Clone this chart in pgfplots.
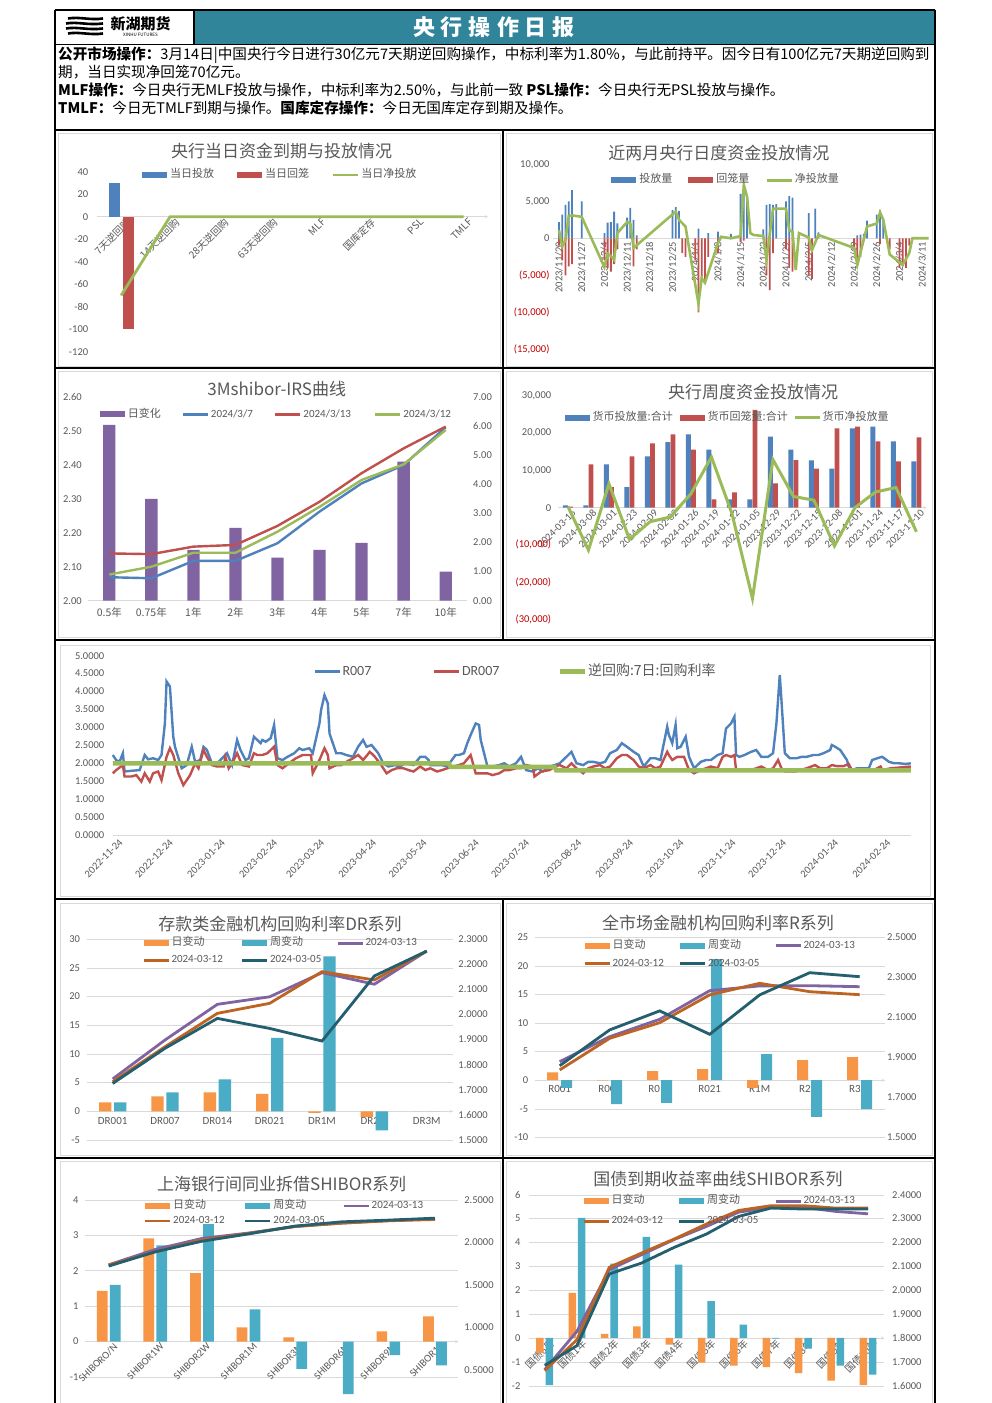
\documentclass[border=0pt]{standalone}
\usepackage{fontspec}
\usepackage{xcolor}
\usepackage{pgfplots}
\pgfplotsset{compat=1.18}
\setmainfont{Noto Sans CJK SC}
\newfontfamily\lat{Carlito}
\definecolor{xblue}{RGB}{79,129,189}
\definecolor{xred}{RGB}{192,80,77}
\definecolor{xgreen}{RGB}{155,187,89}
\definecolor{xpurple}{RGB}{128,100,162}
\definecolor{xorange}{RGB}{247,150,70}
\definecolor{xteal}{RGB}{75,172,198}
\definecolor{xbrown}{RGB}{190,100,35}
\definecolor{xdteal}{RGB}{35,95,110}
\definecolor{xgray}{RGB}{89,89,89}
\definecolor{xgrid}{RGB}{217,217,217}
\definecolor{head}{RGB}{49,133,155}
\definecolor{negred}{RGB}{192,0,0}
\pgfplotsset{
  xl/.style={scale only axis, enlargelimits=false, clip=false, scaled ticks=false,
    major tick length=0pt,
    tick label style={font=\lat\fontsize{10.5}{12}\selectfont, text=xgray},
    axis line style={draw=xgrid, -},
    every inner x axis line/.append style={-},
    every outer x axis line/.append style={-},
    every outer y axis line/.append style={-},
    legend style={draw=none, fill=none, inner sep=0pt, outer sep=0pt,
      /tikz/column sep=0pt,
      nodes={inner sep=0pt, text height=8pt, text depth=2.5pt, text=xgray},
      font=\fontsize{11}{12}\selectfont},
    legend cell align=left,
    /pgf/number format/assume math mode=true,
    hide obscured x ticks=false, hide obscured y ticks=false,
  },
}
\newcommand{\lbar}[1]{\addlegendimage{legend image code/.code={\path[fill=#1, draw=none] (0pt,-3pt) rectangle (25pt,3pt); \path[draw=none, fill=none] (0pt,0pt) -- (28pt,0pt);}}}
\newcommand{\lline}[2]{\addlegendimage{legend image code/.code={\path[draw=#1, line width=#2, fill=none] (0pt,0pt) -- (25pt,0pt); \path[draw=none, fill=none] (0pt,0pt) -- (28pt,0pt);}}}
\begin{document}
\begin{tikzpicture}[x=1pt,y=1pt]
\useasboundingbox (0,0) rectangle (992,1403);
\fill[white] (0,0) rectangle (992,1403);
\begin{scope}
\clip (0,0) rectangle (992,1403);
% light chart borders
\begin{scope}[shift={(0,1403)},yscale=-1]
\draw[xgrid, line width=0.8pt] (58,133) rectangle (500,366);
\draw[xgrid, line width=0.8pt] (506,133) rectangle (932,366);
\draw[xgrid, line width=0.8pt] (58,371) rectangle (500,637);
\draw[xgrid, line width=0.8pt] (506,371) rectangle (932,637);
\draw[xgrid, line width=0.8pt] (60,645) rectangle (930,896);
\draw[xgrid, line width=0.8pt] (60,903) rectangle (500,1155);
\draw[xgrid, line width=0.8pt] (506,903) rectangle (932,1155);
\draw[xgrid, line width=0.8pt] (60,1161) rectangle (500,1410);
\draw[xgrid, line width=0.8pt] (506,1161) rectangle (932,1410);
\end{scope}

%================ Chart 1
\begin{axis}[xl, at={(96.7pt,1051.3pt)}, anchor=south west, width=391.3pt, height=180pt,
  xmin=-0.5, xmax=7.5, ymin=-120, ymax=40,
  axis x line=middle, axis y line*=left, y axis line style={draw=none},
  ytick={-120,-100,-80,-60,-40,-20,0,20,40},
  yticklabels={-120,-100,-80,-60,-40,-20,0,20,40}, yticklabel style={xshift=-5pt},
  xtick={0,...,7},
  xticklabels={7天逆回购,14天逆回购,28天逆回购,63天逆回购,MLF,国库定存,PSL,TMLF},
  xticklabel style={font=\fontsize{10}{10}\selectfont, text=xgray, rotate=45, anchor=north east, xshift=6pt},
  legend columns=-1, legend style={at={(0.1158,0.9817)}, anchor=west},
]
\addplot[ybar, bar width=11pt, bar shift=-7pt, fill=xblue, draw=none, forget plot] coordinates {(0,30)};
\addplot[ybar, bar width=11pt, bar shift=7pt, fill=xred, draw=none, forget plot] coordinates {(0,-100)};
\addplot[xgreen, line width=2.8pt, forget plot] coordinates {(0,-70) (1,0) (2,0) (3,0) (4,0) (5,0) (6,0) (7,0)};
\lbar{xblue}\addlegendentry{\makebox[67pt][l]{当日投放}}
\lbar{xred}\addlegendentry{\makebox[67pt][l]{当日回笼}}
\lline{xgreen}{2.8pt}\addlegendentry{当日净投放}
\end{axis}

%================ Chart 2
\begin{axis}[xl, at={(553pt,1053.7pt)}, anchor=south west, width=376pt, height=185pt,
  xmin=-1.85, xmax=114.1, ymin=-15000, ymax=10000,
  axis x line=middle, axis y line*=left, y axis line style={draw=none},
  ytick={-15000,-10000,-5000,0,5000,10000},
  yticklabels={{\color{negred}(15,000)},{\color{negred}(10,000)},{\color{negred}(5,000)},0,{5,000},{10,000}},
  xtick={0,7,...,112},
  xticklabels={2023/11/20,2023/11/27,2023/12/4,2023/12/11,2023/12/18,2023/12/25,2024/1/1,2024/1/8,2024/1/15,2024/1/22,2024/1/29,2024/2/5,2024/2/12,2024/2/19,2024/2/26,2024/3/4,2024/3/11},
  xticklabel style={rotate=90, anchor=east},
  legend columns=-1, legend style={at={(0.155,0.915)}, anchor=west},
]
\addplot[ybar, bar width=1.8pt, bar shift=0pt, fill=xblue, draw=none, forget plot] coordinates {
(0,2200) (1,3200) (2,4500) (3,5000) (4,6500) (7,5000) (14,700) (15,2100) (16,2200) (17,3600) (18,2000)
(21,2800) (22,4100) (23,2500) (24,400) (35,3800) (36,4200) (37,3700) (43,1300) (46,700) (49,900) (53,600)
(56,6000) (57,7200) (58,5000) (63,1200) (64,4500) (65,4600) (66,4500) (67,4600) (70,5000) (71,5700) (72,5500)
(77,3400) (79,4000) (80,800) (92,400) (93,500) (94,600) (95,2400) (98,3200) (99,3800) (100,2600)};
\addplot[ybar, bar width=1.8pt, bar shift=0pt, fill=xred, draw=none, forget plot] coordinates {
(0,-1000) (1,-3000) (2,-5000) (3,-3800) (4,-3500) (14,-3000) (15,-4000) (16,-4500) (17,-3500) (18,-1500)
(23,-3800) (24,-1500) (38,-2000) (39,-2500) (42,-3000) (43,-10000) (44,-5500) (45,-6000) (46,-2500) (49,-2000)
(56,-500) (57,-300) (64,-5000) (65,-7000) (66,-2000) (70,-1500) (71,-4000) (72,-4500) (77,-5000) (78,-5500)
(91,-1500) (92,-3000) (93,-2500) (99,-800) (102,-1500) (105,-4000) (106,-3500) (107,-4000) (108,-1000)};
\addplot[xgreen, line width=2.6pt, forget plot] coordinates {
(0,1100) (1,-1100) (2,-200) (3,3000) (4,3100) (7,2900) (14,-3900) (15,-2100) (16,-2400) (17,-2900) (18,700)
(21,2200) (22,2000) (23,-1300) (36,3600) (37,2500) (39,1600) (43,-8800) (44,-5400) (45,-6000) (49,-700)
(50,200) (53,0) (56,300) (57,7200) (58,5600) (59,700) (60,450) (63,300) (64,-2900) (66,4000) (70,4000)
(71,1100) (72,900) (73,-4300) (74,700) (77,100) (78,-1600) (80,450) (91,-1300) (92,-3600) (95,1600)
(98,2000) (99,3500) (100,2500) (102,-2200) (106,-3600) (108,-2000) (109,0) (112,0) (113,0) (114,0)};
\lbar{xblue}\addlegendentry{\makebox[49pt][l]{投放量}}
\lbar{xred}\addlegendentry{\makebox[49pt][l]{回笼量}}
\lline{xgreen}{3pt}\addlegendentry{净投放量}
\end{axis}

%================ Chart 3 (bars, right axis)
\begin{axis}[xl, at={(88.3pt,802.3pt)}, anchor=south west, width=378.4pt, height=204pt,
  xmin=-0.5, xmax=8.5, ymin=0, ymax=7,
  axis x line*=bottom, axis y line*=right, y axis line style={draw=none},
  ytick={0,1,2,3,4,5,6,7}, yticklabels={0.00,1.00,2.00,3.00,4.00,5.00,6.00,7.00},
  yticklabel style={xshift=3pt},
  xtick={0,...,8}, xticklabels={0.5年,0.75年,1年,2年,3年,4年,5年,7年,10年},
  xticklabel style={font=\fontsize{10.5}{11}\selectfont, text=xgray, yshift=-3pt},
]
\addplot[ybar, bar width=12.3pt, bar shift=0pt, fill=xpurple, draw=none] coordinates {(0,6.03) (1,3.49) (2,1.74) (3,2.50) (4,1.48) (5,1.74) (6,1.98) (7,4.77) (8,1.00)};
\end{axis}
\begin{axis}[xl, at={(88.3pt,802.3pt)}, anchor=south west, width=378.4pt, height=204pt,
  xmin=-0.5, xmax=8.5, ymin=2.0, ymax=2.6,
  axis x line=none, axis y line*=left, y axis line style={draw=none},
  ytick={2.0,2.1,2.2,2.3,2.4,2.5,2.6}, yticklabels={2.00,2.10,2.20,2.30,2.40,2.50,2.60},
  yticklabel style={xshift=-3pt},
  legend columns=-1, legend style={at={(0.0309,0.9137)}, anchor=west},
]
\addplot[xblue, line width=2.4pt, forget plot] coordinates {(0,2.069) (1,2.066) (2,2.117) (3,2.117) (4,2.169) (5,2.262) (6,2.345) (7,2.399) (8,2.510)};
\addplot[xred, line width=2.4pt, forget plot] coordinates {(0,2.139) (1,2.137) (2,2.159) (3,2.164) (4,2.220) (5,2.291) (6,2.375) (7,2.448) (8,2.512)};
\addplot[xgreen, line width=2.4pt, forget plot] coordinates {(0,2.077) (1,2.100) (2,2.141) (3,2.141) (4,2.203) (5,2.276) (6,2.355) (7,2.401) (8,2.502)};
\lbar{xpurple}\addlegendentry{\makebox[53.7pt][l]{日变化}}
\lline{xblue}{2.5pt}\addlegendentry{\makebox[63.3pt][l]{\lat 2024/3/7}}
\lline{xred}{2.5pt}\addlegendentry{\makebox[70.7pt][l]{\lat 2024/3/13}}
\lline{xgreen}{2.5pt}\addlegendentry{\lat 2024/3/12}
\end{axis}

%================ Chart 4
\begin{axis}[xl, at={(557.7pt,783.7pt)}, anchor=south west, width=369pt, height=223.3pt,
  xmin=-0.5, xmax=17.5, ymin=-30000, ymax=30000,
  axis x line=middle, axis y line*=left, y axis line style={draw=none},
  ytick={-30000,-20000,-10000,0,10000,20000,30000},
  yticklabels={{\color{negred}(30,000)},{\color{negred}(20,000)},{\color{negred}(10,000)},0,{10,000},{20,000},{30,000}},
  yticklabel style={xshift=-3pt},
  xtick={0,...,17},
  xticklabels={2024-03-15,2024-03-08,2024-03-01,2024-02-23,2024-02-09,2024-02-02,2024-01-26,2024-01-19,2024-01-12,2024-01-05,2023-12-29,2023-12-22,2023-12-15,2023-12-08,2023-12-01,2023-11-24,2023-11-17,2023-11-10},
  xticklabel style={rotate=45, anchor=north east, xshift=5pt},
  legend columns=-1, legend style={at={(0.019,0.9028)}, anchor=west},
]
\addplot[ybar, bar width=4.8pt, bar shift=-2.6pt, fill=xblue, draw=none, forget plot] coordinates {
(0,600) (1,600) (2,11600) (3,5500) (4,13800) (5,17600) (6,19700) (7,15600) (8,2200) (9,2200) (10,19100) (11,15600) (12,12700) (13,10500) (14,21300) (15,21800) (16,17800) (17,12400)};
\addplot[ybar, bar width=4.8pt, bar shift=2.6pt, fill=xred, draw=none, forget plot] coordinates {
(0,300) (1,11600) (2,5500) (3,13800) (4,17300) (5,19700) (6,15600) (7,2200) (8,4100) (9,26300) (10,6500) (11,12800) (12,10500) (13,21300) (14,21800) (15,17800) (16,12400) (17,18900)};
\addplot[xgreen, line width=3pt, forget plot] coordinates {
(0,300) (1,-11400) (2,6400) (3,-8500) (4,-3800) (5,-2500) (6,3750) (7,13600) (8,-1600) (9,-24400) (10,12900) (11,3000) (12,2000) (13,-10300) (14,0) (15,4200) (16,5400) (17,-6500)};
\lbar{xblue}\addlegendentry{\makebox[87pt][l]{货币投放量:合计}}
\lbar{xred}\addlegendentry{\makebox[85.3pt][l]{货币回笼量:合计}}
\lline{xgreen}{3pt}\addlegendentry{货币净投放量}
\end{axis}

%================ Chart 5
\begin{axis}[xl, at={(112.8pt,568pt)}, anchor=south west, width=798pt, height=179.3pt,
  xmin=0, xmax=475, ymin=0, ymax=5,
  axis x line*=bottom, axis y line*=left, y axis line style={draw=none},
  ytick={0,0.5,1,1.5,2,2.5,3,3.5,4,4.5,5},
  yticklabels={0.0000,0.5000,1.0000,1.5000,2.0000,2.5000,3.0000,3.5000,4.0000,4.5000,5.0000},
  yticklabel style={xshift=-5pt},
  xtick={0,30,61,92,120,151,181,212,242,273,304,334,365,395,426,457},
  xticklabels={2022-11-24,2022-12-24,2023-01-24,2023-02-24,2023-03-24,2023-04-24,2023-05-24,2023-06-24,2023-07-24,2023-08-24,2023-09-24,2023-10-24,2023-11-24,2023-12-24,2024-01-24,2024-02-24},
  xticklabel style={rotate=45, anchor=north east, xshift=5pt, yshift=-3pt},
  legend columns=-1, legend style={at={(0.2509,0.9091)}, anchor=west, font=\fontsize{14}{15}\selectfont,
    nodes={text height=10pt, text depth=3pt}},
]
\addplot[xblue, line width=2.4pt, forget plot] coordinates {
(0,2.23) (2,2.09) (4,2.04) (6,2.28) (7,1.77) (11,1.79) (16,1.81) (19,2.23) (21,2.11) (24,2.14) (27,2.09) (29,2.23)
(31,3.11) (32,4.28) (34,4.14) (36,2.74) (37,2.46) (41,1.86) (44,1.95) (47,2.46) (49,2.04) (52,2.09) (54,2.46) (56,2.37)
(59,2.00) (63,2.04) (68,2.28) (71,1.95) (74,2.65) (76,2.37) (79,2.09) (81,2.14) (84,2.74) (88,2.56) (89,2.65) (91,2.60)
(94,2.70) (96,3.07) (98,2.14) (101,2.09) (104,2.18) (108,2.28) (111,2.42) (113,2.37) (117,2.42) (119,2.28) (123,3.11)
(124,3.49) (126,3.90) (128,3.67) (129,2.83) (133,2.28) (136,2.28) (139,2.23) (143,2.18) (146,2.46) (149,2.65) (151,2.46)
(154,2.51) (158,2.28) (161,2.00) (164,1.91) (168,1.95) (171,1.91) (174,2.00) (179,1.95) (183,2.18) (186,2.18) (188,2.09)
(189,1.95) (193,1.95) (196,1.95) (199,1.91) (204,2.23) (206,2.23) (209,2.28) (211,2.56) (213,2.79) (216,3.11) (218,3.07)
(219,2.65) (223,1.91) (226,1.91) (230,1.95) (233,2.00) (236,1.91) (240,2.00) (243,2.18) (246,1.81) (250,1.77) (253,1.86)
(256,1.77) (260,1.91) (263,1.95) (266,2.00) (270,2.18) (273,2.32) (276,2.00) (280,1.95) (283,2.04) (286,2.04) (290,2.00)
(293,2.04) (296,2.28) (300,2.37) (303,2.56) (306,2.46) (310,2.32) (313,2.23) (316,1.91) (320,2.14) (323,2.14) (326,2.09)
(330,3.02) (331,2.79) (333,2.56) (335,3.07) (336,2.42) (338,2.46) (341,2.74) (343,2.18) (346,1.86) (350,2.04) (353,2.09)
(356,2.09) (360,2.23) (363,2.28) (365,2.97) (368,3.11) (370,3.30) (371,2.23) (373,2.18) (376,2.23) (380,2.32) (383,2.37)
(386,2.18) (390,2.18) (393,2.28) (395,3.11) (397,4.46) (398,3.76) (400,2.28) (403,2.14) (407,2.14) (410,2.18) (413,2.18)
(417,2.23) (420,2.23) (423,2.28) (427,2.37) (428,2.51) (430,2.46) (433,2.37) (437,2.09) (438,1.91) (440,1.81) (443,1.86)
(447,1.86) (450,1.86) (452,2.09) (455,2.14) (458,2.18) (462,2.04) (465,2.00) (468,2.00) (472,1.98) (475,2.00)};
\addplot[xred, line width=2.4pt, forget plot] coordinates {
(0,1.72) (2,1.81) (6,1.95) (7,1.63) (11,1.63) (14,1.67) (17,1.49) (19,1.72) (22,1.49) (24,1.72) (27,1.77) (29,1.53)
(32,2.18) (34,2.42) (36,2.23) (39,1.72) (42,1.39) (46,1.67) (49,2.00) (51,1.86) (54,2.37) (56,2.18) (59,1.95) (62,1.91)
(66,1.91) (67,2.18) (69,1.86) (72,2.09) (74,2.28) (77,1.95) (81,1.91) (84,2.28) (86,2.23) (89,2.23) (92,2.28) (96,2.46)
(98,1.95) (101,1.86) (106,2.04) (109,2.14) (113,2.23) (118,2.23) (119,1.72) (123,2.09) (126,2.42) (128,2.23) (129,1.86)
(133,1.95) (136,1.95) (139,2.04) (143,2.14) (146,2.23) (149,2.09) (153,2.32) (156,2.18) (159,2.00) (163,1.72) (166,1.81)
(169,1.86) (173,1.86) (176,1.81) (179,1.77) (183,1.91) (186,1.81) (189,1.86) (193,1.77) (196,1.81) (199,1.86) (203,1.91)
(206,1.95) (209,2.00) (213,2.23) (216,1.72) (219,1.72) (223,1.72) (226,1.67) (230,1.72) (233,1.81) (236,1.81) (240,1.86)
(243,1.86) (246,1.95) (250,1.91) (251,1.63) (255,1.77) (260,1.81) (263,1.91) (266,1.95) (270,1.86) (273,2.00) (276,1.86)
(280,1.72) (283,1.86) (286,1.91) (290,1.95) (293,1.86) (296,1.91) (300,2.14) (303,2.23) (306,2.23) (310,2.09) (313,1.91)
(316,1.86) (320,1.95) (323,1.86) (326,1.91) (330,2.32) (331,2.23) (333,2.09) (336,2.18) (340,2.18) (343,1.81) (346,1.72)
(350,1.81) (353,1.86) (356,1.91) (360,1.86) (363,2.18) (365,2.23) (368,2.18) (370,2.23) (371,1.81) (375,1.81) (380,1.81)
(383,1.86) (386,1.91) (390,1.81) (393,1.86) (396,2.09) (398,1.86) (400,1.77) (406,1.77) (413,1.86) (418,1.95) (421,1.86)
(425,1.86) (428,1.95) (431,1.92) (435,1.92) (438,1.98) (440,1.81) (443,1.79) (447,1.81) (450,1.79) (453,1.81) (457,1.91)
(458,1.81) (463,1.86) (468,1.88) (475,1.91)};
\addplot[xgreen, line width=4.5pt, forget plot] coordinates {(0,2.0) (200,2.0) (201,1.9) (263,1.9) (264,1.8) (475,1.8)};
\lline{xblue}{3pt}\addlegendentry{\makebox[90pt][l]{\lat R007}}
\lline{xred}{3pt}\addlegendentry{\makebox[95.5pt][l]{\lat DR007}}
\lline{xgreen}{5pt}\addlegendentry{逆回购:7日:回购利率}
\end{axis}

%================ Chart 6
\begin{axis}[xl, at={(86.5pt,263pt)}, anchor=south west, width=366.4pt, height=201pt,
  xmin=-0.5, xmax=6.5, ymin=-5, ymax=30,
  axis x line=middle, axis y line*=left, y axis line style={draw=none},
  ymajorgrids, grid style={xgrid},
  ytick={-5,0,5,10,15,20,25,30}, yticklabels={-5,0,5,10,15,20,25,30}, yticklabel style={xshift=-3pt},
  xtick={0,...,6}, xticklabels={DR001,DR007,DR014,DR021,DR1M,DR2M,DR3M},
  xticklabel style={font=\lat\fontsize{11}{12}\selectfont, yshift=-3pt},
]
\addplot[ybar, bar width=12.3pt, bar shift=-7.5pt, fill=xorange, draw=none] coordinates {(0,1.57) (1,2.61) (2,3.31) (3,3.02) (4,-0.29) (5,-0.99) (6,0)};
\addplot[ybar, bar width=12.3pt, bar shift=7.5pt, fill=xteal, draw=none] coordinates {(0,1.57) (1,3.31) (2,5.57) (3,12.77) (4,26.99) (5,-3.31) (6,0)};
\end{axis}
\begin{axis}[xl, at={(86.5pt,263pt)}, anchor=south west, width=366.4pt, height=201pt,
  xmin=-0.5, xmax=6.5, ymin=1.5, ymax=2.3,
  axis x line=none, axis y line*=right, y axis line style={draw=none},
  ytick={1.5,1.6,1.7,1.8,1.9,2.0,2.1,2.2,2.3},
  yticklabels={1.5000,1.6000,1.7000,1.8000,1.9000,2.0000,2.1000,2.2000,2.3000}, yticklabel style={xshift=2pt},
  legend columns=3, legend style={at={(0.1515,1.0062)}, anchor=north west, row sep=6.5pt},
]
\addplot[xpurple, line width=2.8pt, forget plot] coordinates {(0,1.743) (1,1.898) (2,2.040) (3,2.070) (4,2.166) (5,2.120) (6,2.252)};
\addplot[xbrown, line width=2.8pt, forget plot] coordinates {(0,1.732) (1,1.871) (2,2.004) (3,2.044) (4,2.170) (5,2.137) (6,2.252)};
\addplot[xdteal, line width=2.8pt, forget plot] coordinates {(0,1.725) (1,1.865) (2,1.984) (3,1.944) (4,1.894) (5,2.153) (6,2.252)};
\lbar{xorange}\addlegendentry{\makebox[69pt][l]{日变动}}
\lbar{xteal}\addlegendentry{\makebox[66pt][l]{周变动}}
\lline{xpurple}{3pt}\addlegendentry{\lat 2024-03-13}
\lline{xbrown}{3pt}\addlegendentry{\makebox[69pt][l]{\lat 2024-03-12}}
\lline{xdteal}{3pt}\addlegendentry{\lat 2024-03-05}
\end{axis}

%================ Chart 7
\begin{axis}[xl, at={(534.7pt,265.7pt)}, anchor=south west, width=350pt, height=200pt,
  xmin=-0.5, xmax=6.5, ymin=-10, ymax=25,
  axis x line=middle, axis y line*=left, y axis line style={draw=none},
  ymajorgrids, grid style={xgrid},
  ytick={-10,-5,0,5,10,15,20,25}, yticklabels={-10,-5,0,5,10,15,20,25}, yticklabel style={xshift=-3pt},
  xtick={0,...,6}, xticklabels={R001,R007,R014,R021,R1M,R2M,R3M},
  xticklabel style={font=\lat\fontsize{11}{12}\selectfont, yshift=-2pt},
]
\addplot[ybar, bar width=11pt, bar shift=-7pt, fill=xorange, draw=none] coordinates {(0,1.34) (1,-0.05) (2,1.58) (3,1.93) (4,-1.34) (5,3.50) (6,4.03)};
\addplot[ybar, bar width=11pt, bar shift=7pt, fill=xteal, draw=none] coordinates {(0,-1.34) (1,-4.2) (2,-3.97) (3,21.2) (4,4.55) (5,-6.42) (6,-5.08)};
\end{axis}
\begin{axis}[xl, at={(534.7pt,265.7pt)}, anchor=south west, width=350pt, height=200pt,
  xmin=-0.5, xmax=6.5, ymin=1.5, ymax=2.5,
  axis x line=none, axis y line*=right, y axis line style={draw=none},
  ytick={1.5,1.7,1.9,2.1,2.3,2.5},
  yticklabels={1.5000,1.7000,1.9000,2.1000,2.3000,2.5000}, yticklabel style={xshift=-1pt},
  legend columns=3, legend style={at={(0.138,0.9828)}, anchor=north west, row sep=7.5pt},
]
\addplot[xpurple, line width=2.8pt, forget plot] coordinates {(0,1.878) (1,2.003) (2,2.090) (3,2.233) (4,2.257) (5,2.258) (6,2.253)};
\addplot[xbrown, line width=2.8pt, forget plot] coordinates {(0,1.837) (1,1.995) (2,2.073) (3,2.212) (4,2.270) (5,2.228) (6,2.213)};
\addplot[xdteal, line width=2.8pt, forget plot] coordinates {(0,1.858) (1,2.037) (2,2.132) (3,2.015) (4,2.212) (5,2.323) (6,2.303)};
\lbar{xorange}\addlegendentry{\makebox[66pt][l]{日变动}}
\lbar{xteal}\addlegendentry{\makebox[66pt][l]{周变动}}
\lline{xpurple}{3pt}\addlegendentry{\lat 2024-03-13}
\lline{xbrown}{3pt}\addlegendentry{\makebox[66pt][l]{\lat 2024-03-12}}
\lline{xdteal}{3pt}\addlegendentry{\lat 2024-03-05}
\end{axis}

%================ Chart 8
\begin{axis}[xl, at={(85.4pt,-9.5pt)}, anchor=south west, width=372.9pt, height=212.8pt,
  xmin=-0.5, xmax=7.5, ymin=-2, ymax=4,
  axis x line=middle, axis y line*=left, y axis line style={draw=none},
  ymajorgrids, grid style={xgrid},
  ytick={-2,-1,0,1,2,3,4}, yticklabels={-2,-1,0,1,2,3,4}, yticklabel style={xshift=-3.5pt},
  xtick={0,...,7}, xticklabels={SHIBORO/N,SHIBOR1W,SHIBOR2W,SHIBOR1M,SHIBOR3M,SHIBOR6M,SHIBOR9M,SHIBOR1Y},
  xticklabel style={font=\lat\fontsize{10.5}{11}\selectfont, rotate=45, anchor=north east, xshift=6pt},
]
\addplot[ybar, bar width=10.7pt, bar shift=-6.5pt, fill=xorange, draw=none] coordinates {(0,1.43) (1,2.91) (2,1.93) (3,0.40) (4,0.12) (5,0) (6,0.29) (7,0.71)};
\addplot[ybar, bar width=10.7pt, bar shift=6.5pt, fill=xteal, draw=none] coordinates {(0,1.60) (1,2.71) (2,3.31) (3,0.91) (4,-0.77) (5,-1.48) (6,-0.38) (7,-0.67)};
\end{axis}
\begin{axis}[xl, at={(85.4pt,-9.5pt)}, anchor=south west, width=372.9pt, height=212.8pt,
  xmin=-0.5, xmax=7.5, ymin=0, ymax=2.5,
  axis x line=none, axis y line*=right, y axis line style={draw=none},
  ytick={0,0.5,1,1.5,2,2.5},
  yticklabels={0.0000,0.5000,1.0000,1.5000,2.0000,2.5000}, yticklabel style={xshift=2.5pt},
  legend columns=3, legend style={at={(0.1571,0.9951)}, anchor=north west, row sep=4.5pt},
]
\addplot[xpurple, line width=2.8pt, forget plot] coordinates {(0,1.735) (1,1.915) (2,2.045) (3,2.108) (4,2.186) (5,2.225) (6,2.255) (7,2.275)};
\addplot[xbrown, line width=2.8pt, forget plot] coordinates {(0,1.733) (1,1.888) (2,2.026) (3,2.104) (4,2.185) (5,2.225) (6,2.252) (7,2.268)};
\addplot[xdteal, line width=2.8pt, forget plot] coordinates {(0,1.720) (1,1.888) (2,2.012) (3,2.098) (4,2.190) (5,2.240) (6,2.260) (7,2.283)};
\lbar{xorange}\addlegendentry{\makebox[71pt][l]{日变动}}
\lbar{xteal}\addlegendentry{\makebox[69pt][l]{周变动}}
\lline{xpurple}{2.5pt}\addlegendentry{\lat 2024-03-13}
\lline{xbrown}{2.5pt}\addlegendentry{\makebox[71pt][l]{\lat 2024-03-12}}
\lline{xdteal}{2.5pt}\addlegendentry{\lat 2024-03-05}
\end{axis}

%================ Chart 9
\begin{axis}[xl, at={(528.5pt,17.3pt)}, anchor=south west, width=355.7pt, height=191pt,
  xmin=-0.5, xmax=10.5, ymin=-2, ymax=6,
  axis x line=middle, axis y line*=left, y axis line style={draw=none},
  ymajorgrids, grid style={xgrid},
  ytick={-2,-1,0,1,2,3,4,5,6}, yticklabels={-2,-1,0,1,2,3,4,5,6}, yticklabel style={xshift=-4.5pt},
  xtick={0,...,10}, xticklabels={国债6月,国债1年,国债2年,国债3年,国债4年,国债5年,国债6年,国债7年,国债8年,国债9年,国债10年},
  xticklabel style={font=\fontsize{10}{10}\selectfont, text=xgray, rotate=45, anchor=north east, xshift=6pt},
]
\addplot[ybar, bar width=7.5pt, bar shift=-4.7pt, fill=xorange, draw=none] coordinates {(0,-0.63) (1,1.89) (2,0.17) (3,0.49) (4,-0.28) (5,-1.03) (6,-1.16) (7,-1.22) (8,-1.47) (9,-1.79) (10,-1.98)};
\addplot[ybar, bar width=7.5pt, bar shift=4.7pt, fill=xteal, draw=none] coordinates {(0,-1.98) (1,5.03) (2,3.11) (3,4.23) (4,3.07) (5,1.54) (6,0.56) (7,-0.03) (8,-0.45) (9,-1.16) (10,-1.54)};
\end{axis}
\begin{axis}[xl, at={(528.5pt,17.3pt)}, anchor=south west, width=355.7pt, height=191pt,
  xmin=-0.5, xmax=10.5, ymin=1.6, ymax=2.4,
  axis x line=none, axis y line*=right, y axis line style={draw=none},
  ytick={1.6,1.7,1.8,1.9,2.0,2.1,2.2,2.3,2.4},
  yticklabels={1.6000,1.7000,1.8000,1.9000,2.0000,2.1000,2.2000,2.3000,2.4000}, yticklabel style={xshift=4.5pt},
  legend columns=3, legend style={at={(0.1504,0.9945)}, anchor=north west, row sep=9.5pt},
]
\addplot[xpurple, line width=2.8pt, forget plot] coordinates {(0,1.667) (1,1.828) (2,2.086) (3,2.149) (4,2.212) (5,2.267) (6,2.327) (7,2.347) (8,2.347) (9,2.330) (10,2.320)};
\addplot[xbrown, line width=2.8pt, forget plot] coordinates {(0,1.663) (1,1.793) (2,2.096) (3,2.156) (4,2.214) (5,2.277) (6,2.334) (7,2.354) (8,2.354) (9,2.344) (10,2.344)};
\addplot[xdteal, line width=2.8pt, forget plot] coordinates {(0,1.685) (1,1.768) (2,2.068) (3,2.114) (4,2.179) (5,2.235) (6,2.309) (7,2.344) (8,2.340) (9,2.340) (10,2.340)};
\lbar{xorange}\addlegendentry{\makebox[66pt][l]{日变动}}
\lbar{xteal}\addlegendentry{\makebox[67pt][l]{周变动}}
\lline{xpurple}{3pt}\addlegendentry{\lat 2024-03-13}
\lline{xbrown}{3pt}\addlegendentry{\makebox[66pt][l]{\lat 2024-03-12}}
\lline{xdteal}{3pt}\addlegendentry{\lat 2024-03-05}
\end{axis}

%================ decorations (image coordinates)
\begin{scope}[shift={(0,1403)},yscale=-1]
% header
\fill[head] (194,10) rectangle (935,44);
\node[text=white, font=\bfseries\fontsize{22}{22}\selectfont] at (494,27) {央\hspace{6pt}行\hspace{6pt}操\hspace{6pt}作\hspace{6pt}日\hspace{6pt}报};
\foreach \yy/\xa in {18.5/68,23.5/66,28.5/66,33.5/68} {\draw[black, line width=2.6pt] (\xa,\yy) .. controls (\xa+12,\yy-2) and (\xa+22,\yy+2) .. (103,\yy);}
\node[font=\bfseries\fontsize{15}{15}\selectfont] at (140.5,24) {新湖期货};
\node[font=\fontsize{4.5}{5}\selectfont] at (140.5,35) {XINHU FUTURES};
% text box
\begin{scope}[every node/.style={anchor=west, inner sep=0pt, font=\fontsize{14.6}{15}\selectfont}]
\node at (58,55) {\textbf{公开市场操作：}3月14日|中国央行今日进行30亿元7天期逆回购操作，中标利率为1.80\%，与此前持平。因今日有100亿元7天期逆回购到};
\node at (58,72) {期，当日实现净回笼70亿元。};
\node at (58,90) {\textbf{MLF操作：}今日央行无MLF投放与操作，中标利率为2.50\%，与此前一致 \textbf{PSL操作：}今日央行无PSL投放与操作。};
\node at (58,108) {\textbf{TMLF：}今日无TMLF到期与操作。\textbf{国库定存操作：}今日无国库定存到期及操作。};
\end{scope}
% titles
\begin{scope}[every node/.style={text=xgray, font=\fontsize{17}{17}\selectfont}]
\node at (281.7,151) {央行当日资金到期与投放情况};
\node at (718.8,152.7) {近两月央行日度资金投放情况};
\node at (276.7,389) {3Mshibor-IRS曲线};
\node at (753,391.7) {央行周度资金投放情况};
\node at (280,924) {存款类金融机构回购利率DR系列};
\node at (718,923.3) {全市场金融机构回购利率R系列};
\node at (281.7,1184) {上海银行间同业拆借SHIBOR系列};
\node at (718,1178.7) {国债到期收益率曲线SHIBOR系列};
\end{scope}
% black grid
\draw[black, line width=1.6pt] (55,10) -- (935,10);
\draw[black, line width=1.6pt] (55,10) -- (55,1403);
\draw[black, line width=1.6pt] (935,10) -- (935,1403);
\draw[black, line width=1.2pt] (194,10) -- (194,44);
\draw[black, line width=1.6pt] (55,44.5) -- (935,44.5);
\draw[black, line width=1.6pt] (55,130) -- (935,130);
\draw[black, line width=1.6pt] (55,368) -- (935,368);
\draw[black, line width=1.6pt] (55,640) -- (935,640);
\draw[black, line width=1.6pt] (55,899) -- (935,899);
\draw[black, line width=1.6pt] (55,1158) -- (935,1158);
\draw[black, line width=1.6pt] (503,130) -- (503,640);
\draw[black, line width=1.6pt] (503,899) -- (503,1403);
\end{scope}
\end{scope}
\end{tikzpicture}
\end{document}
